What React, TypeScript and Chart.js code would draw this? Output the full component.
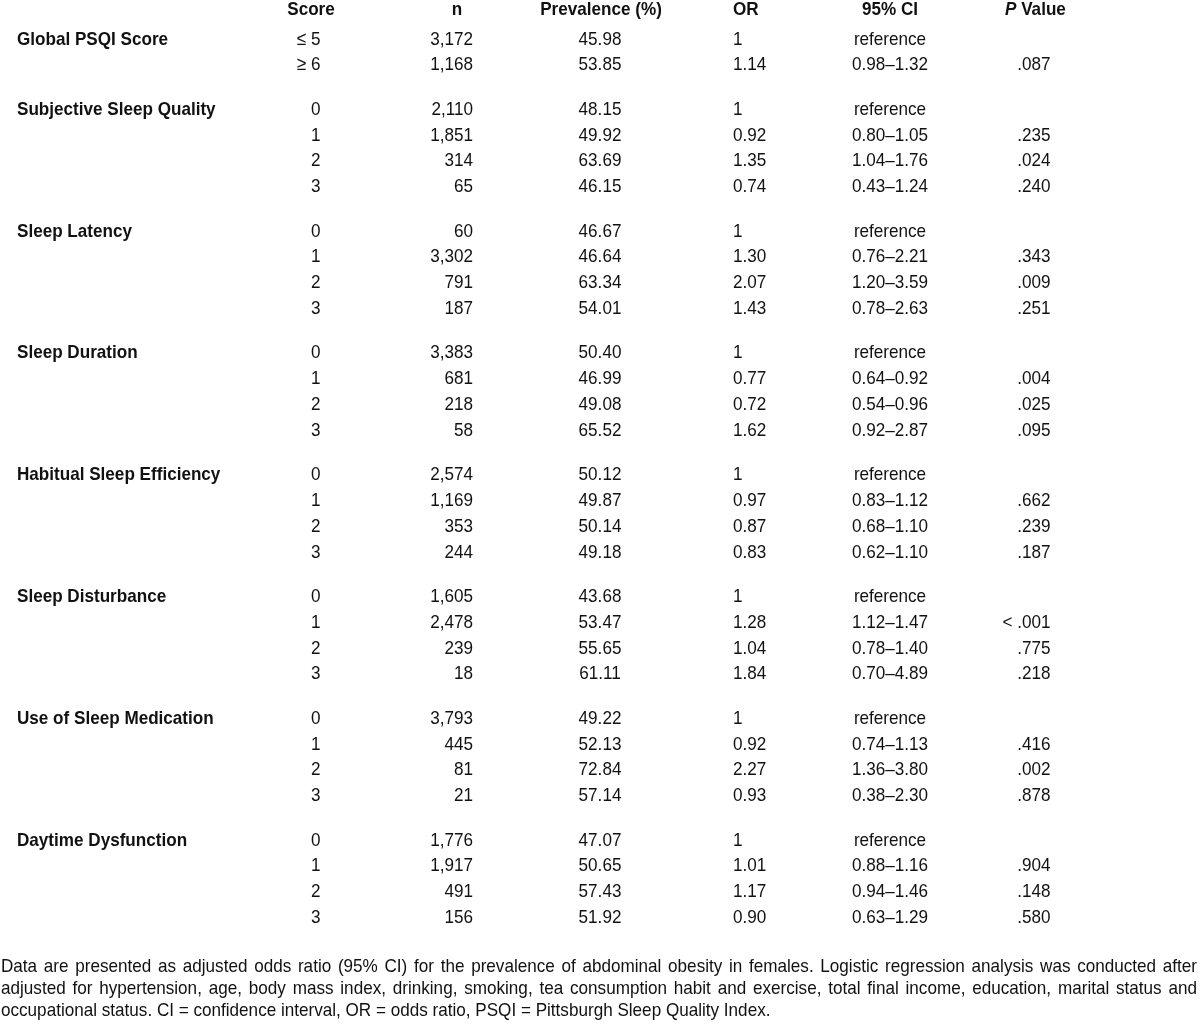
import React, { useEffect, useRef } from "react";
import { Chart, registerables } from "chart.js";

Chart.register(...registerables);

// ---------------- DATA ----------------
const columnHeaders = ["Score", "n", "Prevalence (%)", "OR", "95% CI", "P Value"];

const groupLabels = [
  "Global PSQI Score",
  "Subjective Sleep Quality",
  "Sleep Latency",
  "Sleep Duration",
  "Habitual Sleep Efficiency",
  "Sleep Disturbance",
  "Use of Sleep Medication",
  "Daytime Dysfunction",
];
const groupSizes = [2, 4, 4, 4, 4, 4, 4, 4];

const scoreLabels = [
  "≤ 5", "≥ 6",
  "0", "1", "2", "3",
  "0", "1", "2", "3",
  "0", "1", "2", "3",
  "0", "1", "2", "3",
  "0", "1", "2", "3",
  "0", "1", "2", "3",
  "0", "1", "2", "3",
];

const nValues = [
  3172, 1168,
  2110, 1851, 314, 65,
  60, 3302, 791, 187,
  3383, 681, 218, 58,
  2574, 1169, 353, 244,
  1605, 2478, 239, 18,
  3793, 445, 81, 21,
  1776, 1917, 491, 156,
];

const prevalence = [
  45.98, 53.85,
  48.15, 49.92, 63.69, 46.15,
  46.67, 46.64, 63.34, 54.01,
  50.4, 46.99, 49.08, 65.52,
  50.12, 49.87, 50.14, 49.18,
  43.68, 53.47, 55.65, 61.11,
  49.22, 52.13, 72.84, 57.14,
  47.07, 50.65, 57.43, 51.92,
];

const oddsRatio = [
  1, 1.14,
  1, 0.92, 1.35, 0.74,
  1, 1.3, 2.07, 1.43,
  1, 0.77, 0.72, 1.62,
  1, 0.97, 0.87, 0.83,
  1, 1.28, 1.04, 1.84,
  1, 0.92, 2.27, 0.93,
  1, 1.01, 1.17, 0.9,
];

const ciLower: (number | null)[] = [
  null, 0.98,
  null, 0.8, 1.04, 0.43,
  null, 0.76, 1.2, 0.78,
  null, 0.64, 0.54, 0.92,
  null, 0.83, 0.68, 0.62,
  null, 1.12, 0.78, 0.7,
  null, 0.74, 1.36, 0.38,
  null, 0.88, 0.94, 0.63,
];

const ciUpper: (number | null)[] = [
  null, 1.32,
  null, 1.05, 1.76, 1.24,
  null, 2.21, 3.59, 2.63,
  null, 0.92, 0.96, 2.87,
  null, 1.12, 1.1, 1.1,
  null, 1.47, 1.4, 4.89,
  null, 1.13, 3.8, 2.3,
  null, 1.16, 1.46, 1.29,
];

const pValues = [
  "", ".087",
  "", ".235", ".024", ".240",
  "", ".343", ".009", ".251",
  "", ".004", ".025", ".095",
  "", ".662", ".239", ".187",
  "", "< .001", ".775", ".218",
  "", ".416", ".002", ".878",
  "", ".904", ".148", ".580",
];

const footnoteLines = [
  "Data are presented as adjusted odds ratio (95% CI) for the prevalence of abdominal obesity in females. Logistic regression analysis was conducted after",
  "adjusted for hypertension, age, body mass index, drinking, smoking, tea consumption habit and exercise, total final income, education, marital status and",
  "occupational status. CI = confidence interval, OR = odds ratio, PSQI = Pittsburgh Sleep Quality Index.",
];

// ---------------- LAYOUT / STYLE ----------------
const FONT_FAMILY = '"Liberation Sans", Arial, Helvetica, sans-serif';
const FONT_SIZE = 19;
const SCALE_X = 0.9; // condensed face
const TEXT_COLOR = "#111111";

const HEADER_BASE = 15;
const FIRST_BASE = 44.5;
const ROW_PITCH = 25.8;
const GROUP_GAP = 18.6;
const FOOT_BASE = 972;
const FOOT_PITCH = 22;
const FOOT_LEFT = 1;
const FOOT_RIGHT = 1197;

const COL = {
  label: 17,
  score: 320.5,
  scoreHead: 311,
  n: 473,
  nHead: 457,
  prev: 600,
  prevHead: 601,
  or: 733,
  ci: 890,
  p: 1050.5,
  pHead: 1005,
};

// row baselines computed from row / group indices
const rowY: number[] = [];
const groupY: number[] = [];
{
  let r = 0;
  groupSizes.forEach((size, g) => {
    groupY.push(FIRST_BASE + r * ROW_PITCH + g * GROUP_GAP);
    for (let i = 0; i < size; i++) {
      rowY.push(FIRST_BASE + r * ROW_PITCH + g * GROUP_GAP);
      r++;
    }
  });
}

type Seg = { t: string; italic?: boolean };

function fontStr(bold: boolean, italic: boolean) {
  return `${italic ? "italic " : ""}${bold ? "bold " : ""}${FONT_SIZE}px ${FONT_FAMILY}`;
}

function drawSegments(
  ctx: CanvasRenderingContext2D,
  segs: Seg[],
  x: number,
  y: number,
  align: CanvasTextAlign,
  bold: boolean
) {
  ctx.save();
  ctx.fillStyle = TEXT_COLOR;
  ctx.textBaseline = "alphabetic";
  let total = 0;
  const widths = segs.map((s) => {
    ctx.font = fontStr(bold, !!s.italic);
    const w = ctx.measureText(s.t).width * SCALE_X;
    total += w;
    return w;
  });
  let cx = x;
  if (align === "right") cx = x - total;
  else if (align === "center") cx = x - total / 2;
  segs.forEach((s, i) => {
    ctx.font = fontStr(bold, !!s.italic);
    ctx.save();
    ctx.translate(cx, y);
    ctx.scale(SCALE_X, 1);
    ctx.textAlign = "left";
    ctx.fillText(s.t, 0, 0);
    ctx.restore();
    cx += widths[i];
  });
  ctx.restore();
}

function drawJustified(ctx: CanvasRenderingContext2D, text: string, x: number, y: number, right: number) {
  ctx.save();
  ctx.fillStyle = TEXT_COLOR;
  ctx.textBaseline = "alphabetic";
  ctx.font = fontStr(false, false);
  const words = text.split(" ");
  const widths = words.map((w) => ctx.measureText(w).width * SCALE_X);
  const sum = widths.reduce((a, b) => a + b, 0);
  const gap = (right - x - sum) / (words.length - 1);
  let cx = x;
  words.forEach((w, i) => {
    ctx.save();
    ctx.translate(cx, y);
    ctx.scale(SCALE_X, 1);
    ctx.textAlign = "left";
    ctx.fillText(w, 0, 0);
    ctx.restore();
    cx += widths[i] + gap;
  });
  ctx.restore();
}

const fmt2 = (v: number) => v.toFixed(2);

export default function App() {
  const canvasRef = useRef<HTMLCanvasElement | null>(null);

  useEffect(() => {
    if (!canvasRef.current) return;

    const mk = (xs: number[], ys: number[]) => xs.map((x, i) => ({ x, y: ys[i] }));
    const rowsAt = (x: number) => mk(rowY.map(() => x), rowY);

    const datasets: any[] = [
      {
        label: "headers",
        data: mk(
          [COL.scoreHead, COL.nHead, COL.prevHead, COL.or, COL.ci, COL.pHead],
          columnHeaders.map(() => HEADER_BASE)
        ),
        texts: [
          [{ t: columnHeaders[0] }],
          [{ t: columnHeaders[1] }],
          [{ t: columnHeaders[2] }],
          [{ t: columnHeaders[3] }],
          [{ t: columnHeaders[4] }],
          [{ t: "P", italic: true }, { t: columnHeaders[5].slice(1) }],
        ],
        aligns: ["center", "center", "center", "left", "center", "left"],
        bold: true,
      },
      {
        label: "groups",
        data: mk(groupY.map(() => COL.label), groupY),
        texts: groupLabels.map((t) => [{ t }]),
        align: "left",
        bold: true,
      },
      {
        label: "score",
        data: rowsAt(COL.score),
        texts: scoreLabels.map((t) => [{ t }]),
        align: "right",
      },
      {
        label: "n",
        data: rowsAt(COL.n),
        texts: nValues.map((v) => [{ t: v.toLocaleString("en-US") }]),
        align: "right",
      },
      {
        label: "prevalence",
        data: rowsAt(COL.prev),
        texts: prevalence.map((v) => [{ t: fmt2(v) }]),
        align: "center",
      },
      {
        label: "or",
        data: rowsAt(COL.or),
        texts: oddsRatio.map((v, i) => [{ t: ciLower[i] === null ? String(v) : fmt2(v) }]),
        align: "left",
      },
      {
        label: "ci",
        data: rowsAt(COL.ci),
        texts: ciLower.map((lo, i) => [
          { t: lo === null ? "reference" : `${fmt2(lo)}–${fmt2(ciUpper[i] as number)}` },
        ]),
        align: "center",
      },
      {
        label: "p",
        data: rowsAt(COL.p),
        texts: pValues.map((t) => [{ t }]),
        align: "right",
      },
      {
        label: "footnote",
        data: mk(
          footnoteLines.map(() => FOOT_LEFT),
          footnoteLines.map((_, i) => FOOT_BASE + i * FOOT_PITCH)
        ),
        lines: footnoteLines,
        justify: [true, true, false],
      },
    ].map((d) => ({ ...d, pointRadius: 0, pointHoverRadius: 0, showLine: false, clip: false }));

    const textPlugin = {
      id: "tableText",
      afterDatasetsDraw(chart: any) {
        const ctx: CanvasRenderingContext2D = chart.ctx;
        chart.data.datasets.forEach((ds: any, di: number) => {
          const meta = chart.getDatasetMeta(di);
          meta.data.forEach((pt: any, i: number) => {
            if (ds.lines) {
              if (ds.justify[i]) drawJustified(ctx, ds.lines[i], pt.x, pt.y, FOOT_RIGHT);
              else drawSegments(ctx, [{ t: ds.lines[i] }], pt.x, pt.y, "left", false);
              return;
            }
            const segs: Seg[] = ds.texts[i];
            if (!segs || segs.every((s) => !s.t)) return;
            const align = ds.aligns ? ds.aligns[i] : ds.align;
            drawSegments(ctx, segs, pt.x, pt.y, align, !!ds.bold);
          });
        });
      },
    };

    const bg = {
      id: "bg",
      beforeDraw(chart: any) {
        const c = chart.ctx;
        c.save();
        c.fillStyle = "#ffffff";
        c.fillRect(0, 0, chart.width, chart.height);
        c.restore();
      },
    };

    const chart = new Chart(canvasRef.current, {
      type: "scatter",
      data: { datasets },
      options: {
        responsive: false,
        animation: false,
        devicePixelRatio: 1,
        layout: { padding: 0 },
        events: [],
        plugins: { legend: { display: false }, tooltip: { enabled: false } },
        scales: {
          x: { type: "linear", min: 0, max: 1200, display: false },
          y: { type: "linear", min: 0, max: 1024, reverse: true, display: false },
        },
      },
      plugins: [bg, textPlugin],
    } as any);

    return () => chart.destroy();
  }, []);

  return (
    <div style={{ position: "absolute", left: 0, top: 0, width: 1200, height: 1024, background: "#fff" }}>
      <canvas ref={canvasRef} width={1200} height={1024} style={{ display: "block" }} />
    </div>
  );
}
